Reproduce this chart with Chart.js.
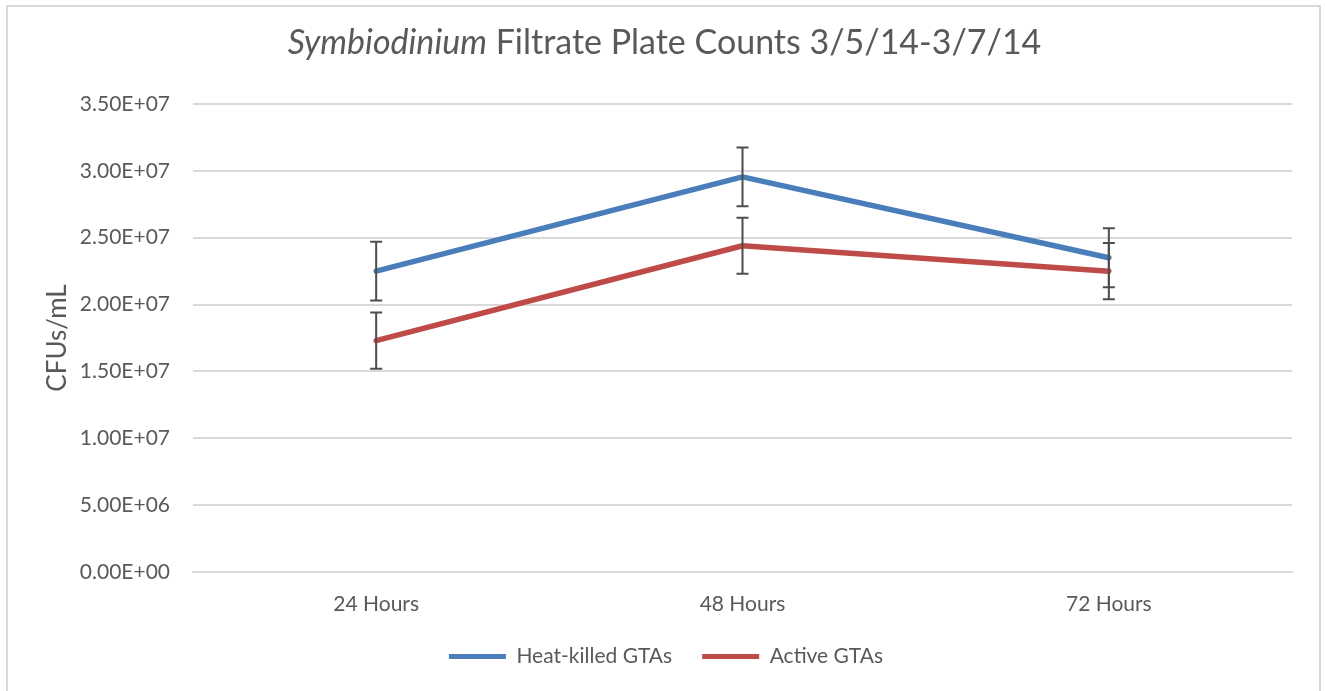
<!DOCTYPE html>
<html><head><meta charset="utf-8">
<script src="https://cdn.jsdelivr.net/npm/chart.js@4.4.0/dist/chart.umd.min.js"></script>
<style>
html,body{margin:0;padding:0;background:#fff;}
#wrap{position:relative;width:1325px;height:691px;overflow:hidden;background:#fff;}
#frame{position:absolute;left:6px;top:5px;width:1315px;height:720px;border:2px solid #d9d9d9;box-sizing:border-box;}
#title{position:absolute;left:0;top:21px;width:1329px;text-align:center;font-family:Lato,sans-serif;font-size:34px;line-height:1.2;color:#595959;white-space:nowrap;}
#title i{font-style:italic;}
#c{position:absolute;left:0;top:0;}
</style></head>
<body>
<div id="wrap">
<div id="frame"></div>
<canvas id="c" width="1325" height="691"></canvas>
<div id="title"><i>Symbiodinium</i> Filtrate Plate Counts 3/5/14-3/7/14</div>
</div>
<script>
const categories = ['24 Hours', '48 Hours', '72 Hours'];
const heatKilled = [2.25e7, 2.955e7, 2.35e7];
const heatKilledErr = [2.2e6, 2.2e6, 2.2e6];
const active = [1.73e7, 2.44e7, 2.25e7];
const activeErr = [2.1e6, 2.1e6, 2.1e6];
const seriesNames = ['Heat-killed GTAs', 'Active GTAs'];
const yMin = 0, yMax = 3.5e7, yStep = 5e6;

function sci(v) {
  const s = Number(v).toExponential(2);
  const m = s.split('e');
  let e = parseInt(m[1], 10);
  const sign = e < 0 ? '-' : '+';
  e = Math.abs(e);
  return m[0] + 'E' + sign + (e < 10 ? '0' + e : '' + e);
}

const TXT = '#595959';
const FONT = 'Lato, sans-serif';

const errorBars = {
  id: 'errorBars',
  afterDatasetsDraw(chart) {
    const ctx = chart.ctx;
    const y = chart.scales.y;
    ctx.save();
    ctx.strokeStyle = '#4d4d4d';
    ctx.lineWidth = 2;
    chart.data.datasets.forEach((ds, i) => {
      const meta = chart.getDatasetMeta(i);
      meta.data.forEach((pt, j) => {
        const v = ds.data[j], e = ds.errors[j];
        const yt = y.getPixelForValue(v + e), yb = y.getPixelForValue(v - e);
        const x = pt.x, hw = 6;
        ctx.beginPath();
        ctx.moveTo(x, yt); ctx.lineTo(x, yb);
        ctx.moveTo(x - hw, yt); ctx.lineTo(x + hw, yt);
        ctx.moveTo(x - hw, yb); ctx.lineTo(x + hw, yb);
        ctx.stroke();
      });
    });
    ctx.restore();
  }
};

new Chart(document.getElementById('c'), {
  type: 'line',
  data: {
    labels: categories,
    datasets: [
      { label: seriesNames[0], data: heatKilled, errors: heatKilledErr, borderColor: '#4a7ebb', backgroundColor: '#4a7ebb', borderWidth: 5.5, pointRadius: 0, tension: 0, borderCapStyle: 'round', borderJoinStyle: 'round' },
      { label: seriesNames[1], data: active, errors: activeErr, borderColor: '#be4b48', backgroundColor: '#be4b48', borderWidth: 5.5, pointRadius: 0, tension: 0, borderCapStyle: 'round', borderJoinStyle: 'round' }
    ]
  },
  options: {
    responsive: false,
    animation: false,
    devicePixelRatio: 1,
    layout: { padding: { left: 40, right: 33, top: 104, bottom: 14 } },
    plugins: {
      title: { display: false },
      tooltip: { enabled: false },
      legend: {
        position: 'bottom',
        labels: {
          boxWidth: 57, boxHeight: 5, padding: 30, color: TXT,
          font: { family: FONT, size: 21 },
          generateLabels(chart) {
            return chart.data.datasets.map((ds, i) => ({
              text: ds.label, fillStyle: ds.borderColor, strokeStyle: ds.borderColor,
              lineWidth: 0, datasetIndex: i, hidden: false, fontColor: TXT
            }));
          }
        }
      }
    },
    scales: {
      x: {
        offset: true,
        grid: { display: false, drawTicks: false },
        border: { display: true, color: '#d9d9d9', width: 2 },
        ticks: { color: TXT, font: { family: FONT, size: 21 }, padding: 20 },
        afterFit(s) { s.height = 44; }
      },
      y: {
        min: yMin, max: yMax,
        grid: { color: '#d9d9d9', lineWidth: 2, drawTicks: false },
        border: { display: false },
        ticks: { stepSize: yStep, color: TXT, font: { family: FONT, size: 21 }, padding: 23, callback: v => sci(v) },
        title: { display: true, text: 'CFUs/mL', color: TXT, font: { family: FONT, size: 26 }, padding: { top: 2 } },
        afterFit(s) { s.width = 153; }
      }
    }
  },
  plugins: [errorBars]
});
</script>
</body></html>
